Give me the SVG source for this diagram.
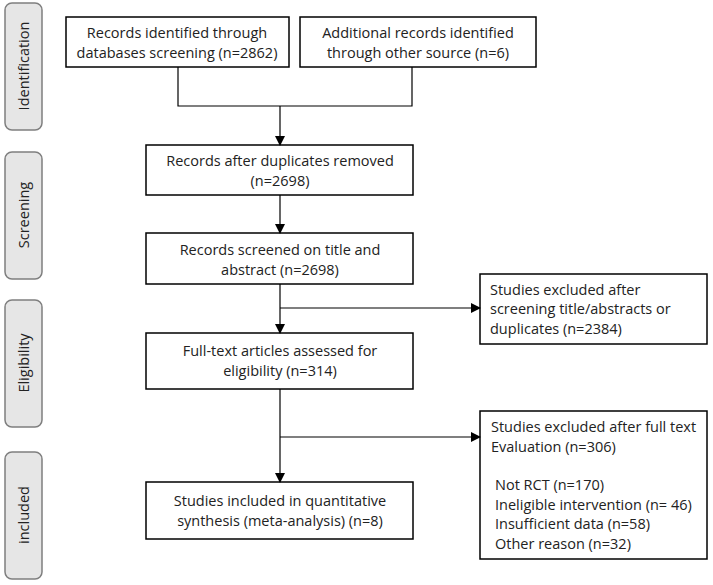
<svg xmlns="http://www.w3.org/2000/svg" width="713" height="585" viewBox="0 0 713 585">
<defs>
<style>
.b{fill:#fff;stroke:#000;stroke-width:1.5}
.s{fill:#e6e6e6;stroke:#7f7f7f;stroke-width:1.5}
text{font-family:"Open Sans","Liberation Sans",sans-serif;font-size:14.5px;fill:#222}
.c{text-anchor:middle}
.l{stroke:#000;stroke-width:1.2;fill:none}
</style>
<marker id="a" markerWidth="10" markerHeight="10" refX="9" refY="5" orient="auto" markerUnits="userSpaceOnUse"><path d="M0,0 L10,5 L0,10 Z" fill="#000"/></marker>
</defs>
<g id="side">
<rect class="s" x="5" y="3" width="37" height="127" rx="7"/><text class="c" transform="translate(29,66) rotate(-90)">Identification</text>
<rect class="s" x="5" y="152" width="37" height="127" rx="7"/><text class="c" transform="translate(29,215) rotate(-90)">Screening</text>
<rect class="s" x="5" y="300" width="37" height="127" rx="7"/><text class="c" transform="translate(29,363) rotate(-90)">Eligibility</text>
<rect class="s" x="5" y="452" width="37" height="127" rx="7"/><text class="c" transform="translate(29,515) rotate(-90)">included</text>
</g>
<g id="n1"><rect class="b" x="66" y="17" width="223" height="50"/><text class="c" x="177" y="38">Records identified through</text><text class="c" x="177" y="58">databases screening  (n=2862)</text></g>
<g id="n2"><rect class="b" x="300" y="17" width="236" height="50"/><text class="c" x="418" y="38">Additional records identified</text><text class="c" x="418" y="58">through other source (n=6)</text></g>
<g id="n3"><rect class="b" x="146" y="145" width="267" height="50"/><text class="c" x="280" y="166">Records after duplicates removed</text><text class="c" x="280" y="186">(n=2698)</text></g>
<g id="n4"><rect class="b" x="146" y="233" width="267" height="51"/><text class="c" x="280" y="255">Records screened on title and</text><text class="c" x="280" y="275">abstract (n=2698)</text></g>
<g id="n5"><rect class="b" x="480" y="274" width="227" height="70"/><text x="490" y="295">Studies excluded after</text><text x="490" y="314">screening title/abstracts or</text><text x="490" y="334">duplicates (n=2384)</text></g>
<g id="n6"><rect class="b" x="146" y="333" width="267" height="56"/><text class="c" x="280" y="356">Full-text articles assessed for</text><text class="c" x="280" y="376">eligibility (n=314)</text></g>
<g id="n7"><rect class="b" x="480" y="411" width="227" height="148"/><text x="491" y="432">Studies  excluded after full text</text><text x="491" y="452">Evaluation (n=306)</text><text x="495" y="490">Not RCT (n=170)</text><text x="495" y="510">Ineligible intervention (n= 46)</text><text x="495" y="529">Insufficient data (n=58)</text><text x="495" y="549">Other reason (n=32)</text></g>
<g id="n8"><rect class="b" x="146" y="482" width="267" height="57"/><text class="c" x="280" y="506">Studies included in quantitative</text><text class="c" x="280" y="526">synthesis (meta-analysis) (n=8)</text></g>
<g id="connectors">
<path class="l" d="M178,67 V106 H412 V67"/>
<path class="l" d="M280,106 V145" marker-end="url(#a)"/>
<path class="l" d="M280,195 V233" marker-end="url(#a)"/>
<path class="l" d="M280,284 V333" marker-end="url(#a)"/>
<path class="l" d="M280,308 H480" marker-end="url(#a)"/>
<path class="l" d="M280,389 V482" marker-end="url(#a)"/>
<path class="l" d="M280,437 H480" marker-end="url(#a)"/>
</g>
</svg>
